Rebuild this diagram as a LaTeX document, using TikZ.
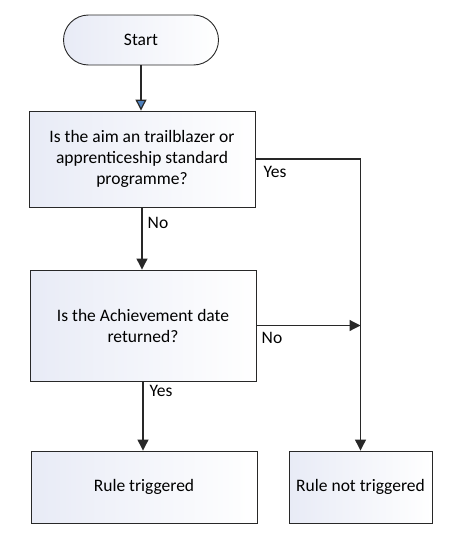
\documentclass[tikz,border=0pt]{standalone}
\usepackage{fontspec}
\setmainfont{Carlito}
\usepackage{xcolor}
\usepackage{tikz}
\usetikzlibrary{arrows.meta}
\usetikzlibrary{positioning}
\definecolor{boxshade}{RGB}{232,235,246}
\definecolor{linegray}{RGB}{40,40,40}
\definecolor{tipblue}{RGB}{79,129,189}
\tikzset{
  flowbox/.style={draw=linegray, line width=0.9pt, left color=boxshade, right color=white,
    align=center, inner sep=2pt, font=\fontsize{17.5}{21}\selectfont},
  startbox/.style={flowbox, rounded corners=25pt, minimum width=155pt, minimum height=50pt},
  flowline/.style={draw=linegray, line width=1.2pt},
  flowarrow/.style={flowline, -{Triangle[length=11pt,width=11pt]}},
  edgelabel/.style={font=\fontsize{17.5}{21}\selectfont, inner sep=0pt}
}
\begin{document}
\begin{tikzpicture}[x=1pt,y=-1pt]
  \useasboundingbox (0,0) rectangle (454,538);
  \node[startbox] (start) at (141,40) {Start};
  \node[flowbox, minimum width=226pt, minimum height=96pt] (aim) at (142,159)
    {Is the aim an trailblazer or\\apprenticeship standard\\programme?};
  \node[flowbox, minimum width=226pt, minimum height=111pt] (achdate) at (143,325.5)
    {Is the Achievement date\\returned?};
  \node[flowbox, minimum width=226pt, minimum height=72pt] (trig) at (144,487) {Rule triggered};
  \node[flowbox, minimum width=143pt, minimum height=72pt] (nottrig) at (360.5,487) {Rule not triggered};
  \coordinate (corner) at (nottrig.north |- aim.east);
  \coordinate (meet) at (nottrig.north |- achdate.east);
  % connectors
  \draw[flowline, -{Triangle[length=11pt,width=11pt,fill=tipblue]}] (start.south) -- (start.south |- aim.north);
  \draw[flowarrow] (aim.south) -- (aim.south |- achdate.north);
  \draw[flowarrow] (aim.east) -- (corner) -- (nottrig.north);
  \draw[flowarrow] (achdate.east) -- (meet);
  \draw[flowarrow] (achdate.south) -- (achdate.south |- trig.north);
  % labels
  \node[edgelabel] (yesaim) at (275,172) {Yes};
  \node[edgelabel] (noaim) at (158,223) {No};
  \node[edgelabel] (noach) at (272,338) {No};
  \node[edgelabel] (yesach) at (161,391) {Yes};
\end{tikzpicture}
\end{document}
